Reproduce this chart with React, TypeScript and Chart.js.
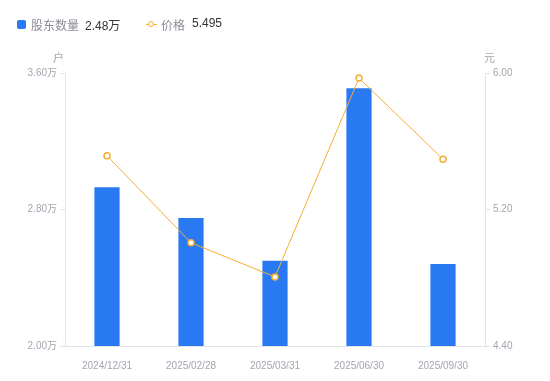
import React, { useEffect, useRef } from "react";
import { Chart, registerables } from "chart.js";

Chart.register(...registerables);

const categories = ["2024/12/31", "2025/02/28", "2025/03/31", "2025/06/30", "2025/09/30"];
const holders = [2.93, 2.75, 2.5, 3.51, 2.48]; // 万户
const prices = [5.515, 5.005, 4.805, 5.97, 5.495]; // 元
const leftTicks = [2.0, 2.8, 3.6];
const rightTicks = [4.4, 5.2, 6.0];

const FONT = "'Liberation Sans', Arial, 'Noto Sans CJK SC', sans-serif";
const BLUE = "#2979f2";
const ORANGE = "#f6ae35";
const AXIS = "#e3e4e8";
const TICK = "#a3a6b0";

export default function App() {
  const ref = useRef<HTMLCanvasElement>(null);
  useEffect(() => {
    const ctx = ref.current!;
    const chart = new Chart(ctx, {
      data: {
        labels: categories,
        datasets: [
          {
            type: "line",
            label: "价格",
            data: prices,
            yAxisID: "y1",
            borderColor: ORANGE,
            borderWidth: 1,
            pointRadius: 3,
            pointBorderWidth: 1.5,
            pointBackgroundColor: "#ffffff",
            pointBorderColor: ORANGE,
            tension: 0,
            order: 0,
          },
          {
            type: "bar",
            label: "股东数量",
            data: holders,
            yAxisID: "y",
            backgroundColor: BLUE,
            barPercentage: 0.3,
            categoryPercentage: 1,
            order: 1,
          },
        ],
      } as any,
      options: {
        animation: false,
        responsive: false,
        maintainAspectRatio: false,
        layout: { padding: { top: 73, left: 0, right: 0, bottom: 0 } },
        plugins: { legend: { display: false }, tooltip: { enabled: false } },
        scales: {
          x: {
            grid: { display: false },
            border: { display: true, color: AXIS },
            ticks: { color: TICK, font: { size: 10, family: FONT }, padding: 6, maxRotation: 0 },
            afterFit: (s: any) => { s.height = 35; },
          },
          y: {
            position: "left",
            min: 2,
            max: 3.6,
            afterBuildTicks: (s: any) => { s.ticks = leftTicks.map((v) => ({ value: v })); },
            grid: { display: true, drawOnChartArea: false, tickLength: 5, color: AXIS },
            border: { display: true, color: AXIS },
            ticks: { color: TICK, font: { size: 10, family: FONT }, padding: 3, callback: (v: any) => Number(v).toFixed(2) + "万" },
            afterFit: (s: any) => { s.width = 65; },
          },
          y1: {
            position: "right",
            min: 4.4,
            max: 6.0,
            afterBuildTicks: (s: any) => { s.ticks = rightTicks.map((v) => ({ value: v })); },
            grid: { display: true, drawOnChartArea: false, tickLength: 5, color: AXIS },
            border: { display: true, color: AXIS },
            ticks: { color: TICK, font: { size: 10, family: FONT }, padding: 3, callback: (v: any) => Number(v).toFixed(2) },
            afterFit: (s: any) => { s.width = 65; },
          },
        },
      },
    });
    return () => chart.destroy();
  }, []);

  const txt: React.CSSProperties = { position: "absolute", fontFamily: FONT, fontSize: 12, whiteSpace: "nowrap" };
  return (
    <div style={{ position: "absolute", left: 0, top: 0, width: 550, height: 381, background: "#fff" }}>
      <canvas ref={ref} width={550} height={381} style={{ position: "absolute", left: 0, top: 0 }} />
      <div style={{ position: "absolute", left: 17, top: 20, width: 9, height: 9, background: BLUE, borderRadius: 2 }} />
      <span style={{ ...txt, left: 31, top: 16, color: "#8a8d96" }}>股东数量</span>
      <span style={{ ...txt, left: 85, top: 16, color: "#333" }}>2.48万</span>
      <div style={{ position: "absolute", left: 146, top: 24, width: 11, height: 1, background: ORANGE }} />
      <div style={{ position: "absolute", left: 148, top: 21, width: 4, height: 4, border: `1.5px solid ${ORANGE}`, borderRadius: "50%", background: "#fff" }} />
      <span style={{ ...txt, left: 161, top: 16, color: "#8a8d96" }}>价格</span>
      <span style={{ ...txt, left: 192, top: 16, color: "#333" }}>5.495</span>
      <span style={{ ...txt, left: 53, top: 49, color: TICK, fontSize: 11 }}>户</span>
      <span style={{ ...txt, left: 484, top: 49, color: TICK, fontSize: 11 }}>元</span>
    </div>
  );
}
